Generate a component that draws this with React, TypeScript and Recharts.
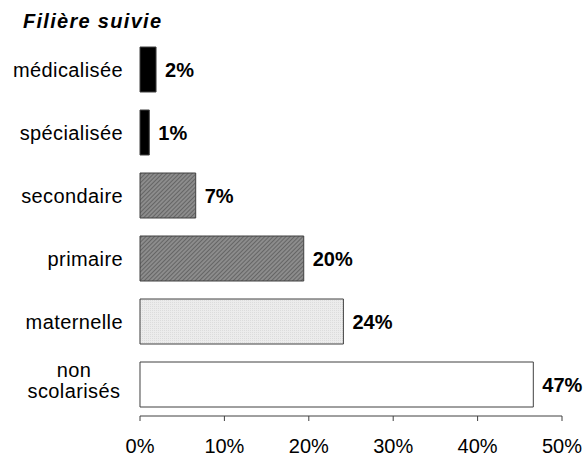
import React from 'react';
import { BarChart, Bar, XAxis, YAxis, Cell, LabelList } from 'recharts';

const categories = ['médicalisée', 'spécialisée', 'secondaire', 'primaire', 'maternelle', 'non\nscolarisés'];
const shares = [1.9, 1.1, 6.6, 19.4, 24.1, 46.6];
const shareLabels = ['2%', '1%', '7%', '20%', '24%', '47%'];
const xTicks = [0, 10, 20, 30, 40, 50];

const FILLS = ['#000000', '#000000', 'url(#hatch)', 'url(#hatch)', 'url(#dots)', '#ffffff'];
const FONT = '"Liberation Sans", Arial, Helvetica, sans-serif';

const data = categories.map((name, i) => ({ name, value: shares[i], label: shareLabels[i] }));

// category label, right aligned; two-line labels are centred on each other
const CategoryTick = (props: any) => {
  const { x, y, payload } = props;
  const lines = String(payload.value).split('\n');
  if (lines.length === 1) {
    return (
      <text x={x} y={y + 7} textAnchor="end" fontSize={20} letterSpacing={0.4} fontFamily={FONT} fill="#000">
        {lines[0]}
      </text>
    );
  }
  return (
    <text fontSize={20} letterSpacing={0.4} fontFamily={FONT} fill="#000" textAnchor="middle">
      <tspan x={x - 49} y={y - 7.5}>{lines[0]}</tspan>
      <tspan x={x - 49} y={y + 13.5}>{lines[1]}</tspan>
    </text>
  );
};

export default function App() {
  return (
    <div style={{ position: 'fixed', left: 0, top: 0, width: 583, height: 457, background: '#fff', overflow: 'hidden' }}>
      <svg width={583} height={40} style={{ position: 'absolute', left: 0, top: 0 }}>
        <text x={23} y={28} fontSize={20} fontWeight="bold" fontStyle="italic" letterSpacing={1.3} fontFamily={FONT} fill="#000">
          Filière suivie
        </text>
      </svg>
      <BarChart
        width={583}
        height={457}
        data={data}
        layout="vertical"
        margin={{ top: 38, right: 21, bottom: 0, left: 0 }}
        barSize={45}
      >
        <defs>
          <pattern id="hatch" width={3} height={3} patternUnits="userSpaceOnUse" patternTransform="rotate(45)">
            <rect width={3} height={3} fill="#8c8c8c" />
            <line x1={0} y1={0} x2={0} y2={3} stroke="#505050" strokeWidth={1.3} />
          </pattern>
          <pattern id="dots" width={2} height={2} patternUnits="userSpaceOnUse">
            <rect width={2} height={2} fill="#ececec" />
            <rect width={1} height={1} fill="#dcdcdc" />
          </pattern>
        </defs>
        <XAxis
          type="number"
          domain={[0, 50]}
          ticks={xTicks}
          tickFormatter={(v: number) => `${v}%`}
          interval={0}
          height={41}
          tickSize={5}
          tickMargin={18}
          axisLine={{ stroke: '#404040' }}
          tickLine={{ stroke: '#404040' }}
          tick={{ fontSize: 20, fontFamily: FONT, fill: '#000' }}
        />
        <YAxis
          type="category"
          dataKey="name"
          width={140}
          axisLine={false}
          tickLine={false}
          tickSize={0}
          tickMargin={17}
          interval={0}
          tick={<CategoryTick />}
        />
        <Bar dataKey="value" stroke="#404040" strokeWidth={1} isAnimationActive={false}>
          {data.map((d, i) => (
            <Cell key={d.name} fill={FILLS[i]} />
          ))}
          <LabelList
            dataKey="label"
            position="right"
            offset={9}
            fontSize={20}
            fontWeight="bold"
            fontFamily={FONT}
            fill="#000"
          />
        </Bar>
      </BarChart>
    </div>
  );
}
